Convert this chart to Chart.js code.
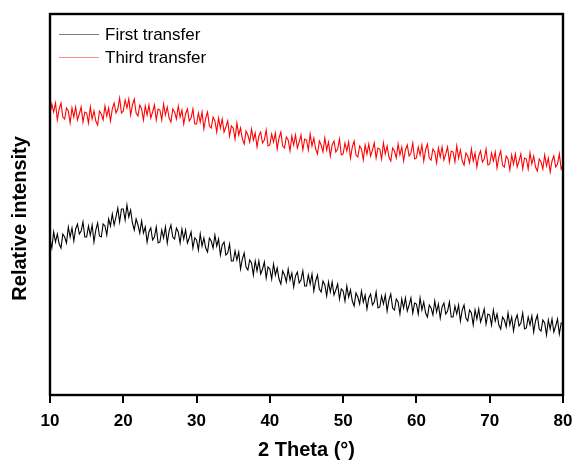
<!DOCTYPE html>
<html>
<head>
<meta charset="utf-8">
<script src="https://cdn.jsdelivr.net/npm/chart.js@4.4.1/dist/chart.umd.min.js"></script>
<style>
    html, body { margin: 0; padding: 0; background: #fff; }
    #xrdChart { display: block; }
</style>
</head>
<body>
<canvas id="xrdChart" width="575" height="462"></canvas>
<script>
// Scan grid: 2 theta from 10 to 80 degrees, 0.25 degree steps
const scanStart = 10;
const scanStep = 0.25;

const seriesNames = ['First transfer', 'Third transfer'];
const seriesColors = ['#000000', '#ff0000'];
const legendColors = ['#808080', '#ff8a8a'];

const xTicks = [10, 20, 30, 40, 50, 60, 70, 80];

// Intensity (a.u.), one row of four readings per degree
const firstTransfer = [
    156, 147, 163, 153,  161, 151, 147, 161,  158, 152, 168, 158,  167, 154, 166, 171,  161, 164, 173, 158,
    158, 169, 160, 170,  153, 165, 172, 159,  158, 171, 169, 160,  176, 169, 181, 170,  178, 187, 173, 186,
    186, 175, 190, 178,  185, 172, 165, 176,  170, 162, 174, 162,  168, 153, 163, 167,  155, 158, 168, 152,
    153, 165, 157, 168,  152, 164, 170, 158,  156, 167, 163, 152,  166, 156, 165, 152,  157, 163, 147, 157,
    155, 145, 161, 149,  157, 147, 143, 157,  154, 147, 160, 149,  156, 140, 150, 153,  140, 142, 151, 134,
    134, 144, 135, 143,  126, 136, 142, 128,  125, 135, 132, 120,  134, 124, 134, 121,  126, 133, 117, 128,
    126, 116, 131, 120,  127, 116, 111, 124,  120, 113, 126, 115,  122, 108, 119, 123,  112, 115, 124, 109,
    109, 120, 111, 121,  104, 114, 120, 106,  103, 114, 110,  99,  113, 103, 113, 100,  105, 111,  96, 106,
    104,  94, 109,  98,  105,  94,  89, 102,   98,  91, 104,  93,  100,  86,  97, 101,   90,  93, 103,  87,
     88,  99,  91, 100,   84,  95, 101,  87,   85,  96,  93,  81,   96,  87,  97,  84,   90,  97,  82,  92,
     91,  81,  97,  85,   93,  82,  78,  90,   87,  80,  94,  83,   91,  77,  88,  92,   81,  84,  93,  78,
     78,  89,  81,  90,   74,  85,  90,  77,   74,  85,  82,  70,   85,  76,  86,  73,   79,  86,  71,  81,
     80,  70,  85,  74,   81,  70,  66,  78,   75,  68,  82,  70,   78,  64,  75,  80,   69,  72,  82,  66,
     67,  78,  70,  79,   63,  74,  80,  66,   64,  75,  72,  60,   75,  66,  76,  63,   69,  76,  61,  72,
     71
];

const thirdTransfer = [
    281, 291, 283, 292,  275, 286, 292, 278,  276, 287, 284, 272,  287, 278, 288, 275,  281, 288, 273, 283,
    282, 272, 288, 276,  284, 274, 270, 284,  281, 275, 289, 279,  287, 274, 286, 292,  282, 286, 297, 282,
    284, 295, 287, 296,  280, 290, 296, 282,  279, 290, 286, 275,  289, 280, 290, 277,  283, 290, 275, 286,
    285, 275, 291, 280,  288, 277, 273, 286,  283, 276, 289, 278,  285, 271, 281, 286,  274, 277, 286, 271,
    271, 282, 273, 283,  266, 277, 283, 269,  267, 278, 274, 263,  277, 267, 276, 263,  268, 274, 259, 269,
    267, 256, 272, 260,  267, 256, 251, 264,  260, 253, 266, 255,  262, 248, 259, 263,  252, 255, 265, 249,
    250, 261, 253, 262,  246, 257, 263, 249,  247, 258, 255, 244,  259, 250, 260, 247,  253, 260, 245, 256,
    255, 245, 261, 249,  257, 246, 241, 254,  250, 243, 257, 245,  253, 239, 250, 254,  243, 246, 256, 240,
    241, 252, 244, 253,  237, 248, 254, 240,  238, 249, 246, 235,  250, 241, 251, 239,  245, 252, 237, 247,
    246, 236, 252, 241,  249, 238, 234, 247,  244, 237, 251, 240,  248, 234, 245, 250,  239, 242, 252, 236,
    237, 248, 240, 250,  234, 245, 251, 237,  235, 246, 243, 232,  247, 238, 248, 235,  241, 248, 233, 244,
    243, 233, 249, 237,  245, 234, 230, 242,  239, 232, 246, 234,  242, 228, 239, 244,  233, 236, 246, 230,
    231, 242, 234, 243,  227, 238, 244, 230,  228, 239, 236, 225,  240, 231, 241, 228,  234, 241, 226, 237,
    236, 226, 242, 231,  239, 228, 224, 236,  233, 226, 240, 229,  237, 223, 234, 239,  228, 231, 241, 226,
    230
];

const yMin = 0;
const yMax = 381;

const FONT = "'Liberation Sans', Arial, Helvetica, sans-serif";

function toPoints(values) {
    return values.map((v, i) => ({ x: scanStart + i * scanStep, y: v }));
}

// Black frame around the plot area
const framePlugin = {
    id: 'frame',
    afterDraw(chart) {
        const { ctx, chartArea: a } = chart;
        ctx.save();
        ctx.strokeStyle = '#000';
        ctx.lineWidth = 2.4;
        ctx.strokeRect(a.left, a.top, a.right - a.left, a.bottom - a.top);
        ctx.restore();
    }
};

// Legend drawn inside the top-left corner of the plot
const insideLegend = {
    id: 'insideLegend',
    afterDatasetsDraw(chart) {
        const { ctx, chartArea: a } = chart;
        ctx.save();
        ctx.font = '17px ' + FONT;
        ctx.textBaseline = 'middle';
        chart.data.datasets.forEach((ds, i) => {
            const y = a.top + 20.5 + i * 23;
            ctx.strokeStyle = legendColors[i];
            ctx.lineWidth = 1;
            ctx.beginPath();
            ctx.moveTo(a.left + 9, y);
            ctx.lineTo(a.left + 49, y);
            ctx.stroke();
            ctx.fillStyle = '#000';
            ctx.fillText(ds.label, a.left + 55, y + 1);
        });
        ctx.restore();
    }
};

new Chart(document.getElementById('xrdChart'), {
    type: 'line',
    data: {
        datasets: [
            {
                label: seriesNames[0],
                data: toPoints(firstTransfer),
                borderColor: seriesColors[0],
                borderWidth: 1.1,
                pointRadius: 0,
                tension: 0
            },
            {
                label: seriesNames[1],
                data: toPoints(thirdTransfer),
                borderColor: seriesColors[1],
                borderWidth: 1.1,
                pointRadius: 0,
                tension: 0
            }
        ]
    },
    options: {
        responsive: false,
        devicePixelRatio: 1,
        animation: false,
        layout: { padding: { top: 14, right: 12, left: 0, bottom: 0 } },
        plugins: {
            legend: { display: false },
            tooltip: { enabled: false }
        },
        scales: {
            x: {
                type: 'linear',
                min: xTicks[0],
                max: xTicks[xTicks.length - 1],
                afterBuildTicks: scale => {
                    scale.ticks = xTicks.map(v => ({ value: v }));
                },
                afterFit: scale => {
                    scale.height = 67;
                    scale.paddingLeft = 0;
                    scale.paddingRight = 0;
                },
                border: { display: false },
                grid: {
                    drawOnChartArea: false,
                    drawTicks: true,
                    tickLength: 8,
                    color: '#000',
                    lineWidth: 2
                },
                ticks: {
                    color: '#000',
                    padding: 8,
                    maxRotation: 0,
                    font: { family: FONT, size: 17, weight: 'bold' }
                },
                title: {
                    display: true,
                    text: '2 Theta (\u00b0)',
                    color: '#000',
                    padding: { top: 0, bottom: 0 },
                    font: { family: FONT, size: 20, weight: 'bold' }
                }
            },
            y: {
                min: yMin,
                max: yMax,
                afterFit: scale => { scale.width = 50; },
                border: { display: false },
                grid: { display: false },
                ticks: { display: false },
                title: {
                    display: true,
                    // trailing gap keeps the label a little below the axis centre
                    text: 'Relative intensity\u00a0\u00a0\u00a0\u00a0\u00a0',
                    color: '#000',
                    padding: { top: 8, bottom: 0 },
                    font: { family: FONT, size: 20, weight: 'bold' }
                }
            }
        }
    },
    plugins: [framePlugin, insideLegend]
});
</script>
</body>
</html>
